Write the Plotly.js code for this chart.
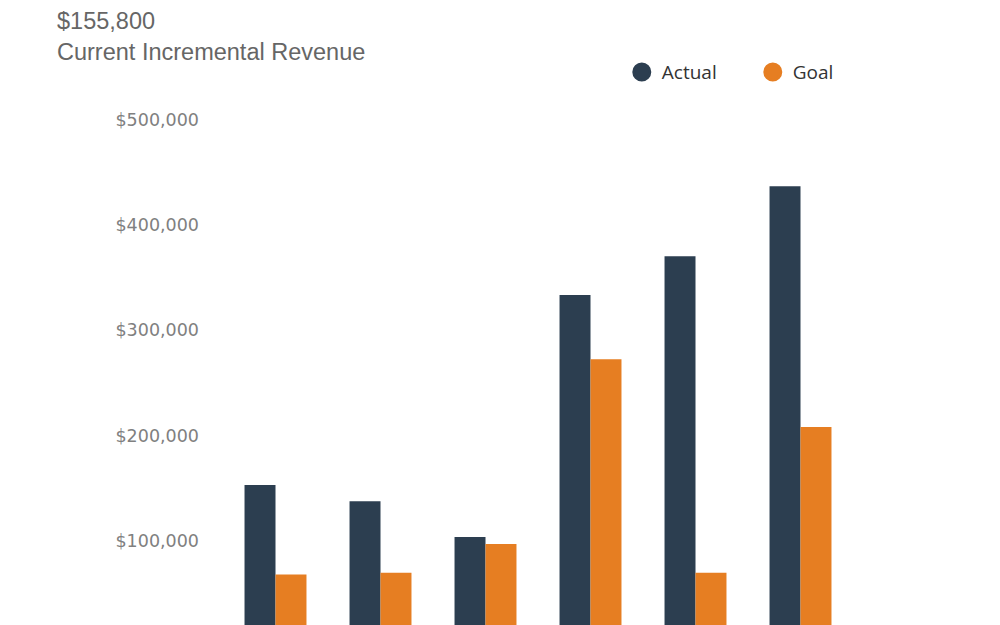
<!DOCTYPE html>
<html>
<head>
<meta charset="utf-8">
<script src="https://cdn.plot.ly/plotly-3.0.1.min.js"></script>
<style>
  html, body { margin: 0; padding: 0; background: #fff; }
  #chart { width: 1000px; height: 625px; }
</style>
</head>
<body>
<div id="chart"></div>
<script>
"use strict"

// values (x labels are cut off at the bottom)
const months = ["Jan", "Feb", "Mar", "Apr", "May", "Jun"]
const actual = [153000, 137500, 103500, 333500, 370500, 437000]
const goal = [68000, 69500, 97000, 272500, 69500, 208000]
const yTicks = [100000, 200000, 300000, 400000, 500000]

const navy = "#2c3e50"
const orange = "#e67e22"

const bars = [
  {name: "Actual", x: months, y: actual, color: navy},
  {name: "Goal", x: months, y: goal, color: orange},
].map(s => ({
  type: "bar",
  name: s.name,
  x: s.x,
  y: s.y,
  marker: {color: s.color},
  showlegend: false,
  hoverinfo: "x+y+name",
}))

// legend entries drawn as round markers, like the original
const keys = bars.map(b => ({
  type: "scatter",
  mode: "markers",
  name: b.name,
  x: [null],
  y: [null],
  marker: {color: b.marker.color, size: 16, symbol: "circle",
    line: {color: b.marker.color, width: 3}},
  showlegend: true,
}))

const layout = {
  width: 1000,
  height: 625,
  paper_bgcolor: "#fff",
  plot_bgcolor: "#fff",
  margin: {l: 223, r: 147, t: 100, b: 0, pad: 0},
  barmode: "group",
  bargap: 0.41,
  bargroupgap: 0,
  title: {
    text: "$155,800<br>Current Incremental Revenue",
    font: {family: "Liberation Sans, Arial, sans-serif", size: 23.5, color: "#666"},
    x: 0.057,
    xanchor: "left",
    xref: "container",
    y: 0.953,
    yanchor: "top",
    yref: "container",
  },
  showlegend: true,
  legend: {
    orientation: "h",
    x: 0.633,
    xanchor: "left",
    y: 1.053,
    yanchor: "middle",
    entrywidth: 86,
    entrywidthmode: "pixels",
    font: {family: "Open Sans, sans-serif", size: 19, color: "#333"},
    bgcolor: "rgba(0,0,0,0)",
  },
  xaxis: {
    type: "category",
    range: [-0.5, 5.5],
    showticklabels: false,
    showgrid: false,
    zeroline: false,
    showline: false,
    ticks: "",
    fixedrange: true,
  },
  yaxis: {
    range: [19900, 518900],
    tickvals: yTicks,
    tickformat: "$,.0f",
    tickfont: {family: "DejaVu Sans, sans-serif", size: 17.5, color: "#808080"},
    ticklabelstandoff: 23,
    showgrid: false,
    zeroline: false,
    showline: false,
    ticks: "",
    fixedrange: true,
  },
  font: {family: "Open Sans, sans-serif"},
}

Plotly.newPlot("chart", bars.concat(keys), layout, {
  displayModeBar: false,
  staticPlot: false,
})
</script>
</body>
</html>
